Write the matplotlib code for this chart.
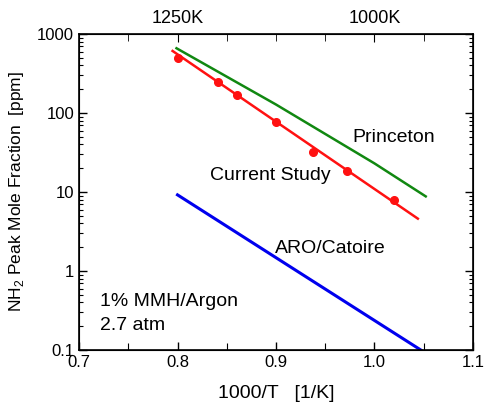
import numpy as np
import matplotlib.pyplot as plt
from matplotlib.ticker import LogLocator, NullFormatter, FixedLocator

plt.rcParams['font.family'] = ['Liberation Sans', 'DejaVu Sans']
plt.rcParams['mathtext.fontset'] = 'custom'
plt.rcParams['mathtext.rm'] = 'Liberation Sans'

# measured points (current study)
exp_x = [0.800, 0.841, 0.860, 0.900, 0.938, 0.972, 1.020]
exp_y = [490, 247, 170, 76, 32, 18.6, 7.9]

# current study fit
fit_x = [0.795, 1.044]
fit_y = [610, 4.6]

# Princeton model
pr_x = [0.799, 0.900, 1.000, 1.052]
pr_y = [660, 128, 23, 8.8]

# ARO/Catoire model
aro_x = [0.800, 1.047]
aro_y = [9.2, 0.1]

top_ticks = [0.8, 1.0]
top_labels = ['1250K', '1000K']

fig = plt.figure(figsize=(4.84, 4.05), dpi=100)
ax = fig.add_axes([79 / 484, 1 - 350 / 405, 394 / 484, 316 / 405])

ax.plot(pr_x, pr_y, color='#118811', lw=1.8)
ax.plot(fit_x, fit_y, color='#ff1111', lw=1.8)
ax.plot(exp_x, exp_y, 'o', color='#ff1111', ms=5.5)
ax.plot(aro_x, aro_y, color='#0000ee', lw=2.2)

ax.set_yscale('log')
ax.set_xlim(0.7, 1.1)
ax.set_ylim(0.1, 1000)
ax.set_xticks([0.7, 0.8, 0.9, 1.0, 1.1])
ax.set_xticklabels(['0.7', '0.8', '0.9', '1.0', '1.1'])
ax.xaxis.set_minor_locator(FixedLocator([0.75, 0.85, 0.95, 1.05]))
ax.set_yticks([0.1, 1, 10, 100, 1000])
ax.set_yticklabels(['0.1', '1', '10', '100', '1000'])
ax.yaxis.set_minor_locator(LogLocator(base=10, subs=np.arange(2, 10)))
ax.yaxis.set_minor_formatter(NullFormatter())

ax.tick_params(which='both', direction='in', right=True, labelsize=12)
ax.tick_params(which='major', length=6, width=1)
ax.tick_params(which='minor', length=3, width=0.8)
ax.tick_params(axis='x', which='minor', length=5)
for s in ax.spines.values():
    s.set_linewidth(1.2)

top = ax.twiny()
top.set_xlim(ax.get_xlim())
top.set_xticks(top_ticks)
top.set_xticklabels(top_labels)
top.xaxis.set_minor_locator(FixedLocator([0.75, 0.85, 0.9, 0.95, 1.05]))
top.tick_params(which='both', direction='in', labelsize=13, pad=5)
top.tick_params(which='major', length=6)
top.tick_params(which='minor', length=5)

ax.set_xlabel('1000/T   [1/K]', fontsize=14, labelpad=11)
ax.set_ylabel('NH$_2$ Peak Mole Fraction  [ppm]', fontsize=12.5, labelpad=8)

ax.text(0.978, 43, 'Princeton', fontsize=14)
ax.text(0.833, 14.2, 'Current Study', fontsize=14)
ax.text(0.899, 1.69, 'ARO/Catoire', fontsize=14)
ax.text(0.7213, 0.36, '1% MMH/Argon', fontsize=14)
ax.text(0.7213, 0.179, '2.7 atm', fontsize=14)

fig.savefig('out.png', dpi=100)
